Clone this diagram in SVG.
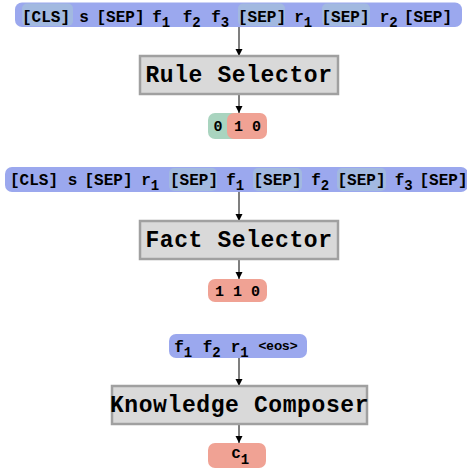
<svg xmlns="http://www.w3.org/2000/svg" width="467" height="470" viewBox="0 0 467 470">
<defs>
<style>
.bar{fill:#9ba8ee}
.hl{fill:#a2b9e0}
.pink{fill:#f0a294}
.green{fill:#a9d4bf}
.box{fill:#d9d9d9;stroke:#a0a0a0;stroke-width:2.5}
.t{font-family:"Liberation Mono",monospace;font-weight:bold;font-size:16px;fill:#000}
.s{font-size:14px}
.d{font-family:"Liberation Mono",monospace;font-weight:bold;font-size:15px;fill:#000;text-anchor:middle}
.eos{font-family:"Liberation Sans",Arial,sans-serif;font-weight:bold;font-size:13.5px;fill:#000;text-anchor:middle}
.bt{font-family:"Liberation Mono",monospace;font-weight:bold;font-size:23px;letter-spacing:0.6px;fill:#000;text-anchor:middle}
.conn{stroke:#555;stroke-width:1.5;fill:none}
</style>
<marker id="ah" viewBox="0 0 10 10" refX="10" refY="5" markerWidth="5" markerHeight="5" orient="auto" markerUnits="strokeWidth">
<path d="M0,0 L10,5 L0,10 z" fill="#000"/>
</marker>
</defs>

<g id="connectors">
<line class="conn" x1="239" y1="27" x2="239" y2="56" marker-end="url(#ah)"/>
<line class="conn" x1="239" y1="94" x2="239" y2="113" marker-end="url(#ah)"/>
<line class="conn" x1="239" y1="192" x2="239" y2="221" marker-end="url(#ah)"/>
<line class="conn" x1="239" y1="259" x2="239" y2="279" marker-end="url(#ah)"/>
<line class="conn" x1="239" y1="358" x2="239" y2="386" marker-end="url(#ah)"/>
<line class="conn" x1="239" y1="424" x2="239" y2="443" marker-end="url(#ah)"/>
</g>

<g id="input-rule">
<rect class="bar" x="15" y="2.5" width="447" height="24.5" rx="7"/>
<rect class="hl" x="22" y="3.5" width="51" height="22.5" rx="5"/>
<rect class="hl" x="238" y="3.5" width="47" height="22.5" rx="5"/>
<rect class="hl" x="322" y="3.5" width="48" height="22.5" rx="5"/>
<text class="t" x="22" y="22">[CLS]</text>
<text class="t" x="79.2" y="22">s</text>
<text class="t" x="96.5" y="22">[SEP]</text>
<text class="t" x="152.2" y="22">f<tspan class="s" dy="5">1</tspan></text>
<text class="t" x="182.7" y="22">f<tspan class="s" dy="5">2</tspan></text>
<text class="t" x="211.2" y="22">f<tspan class="s" dy="5">3</tspan></text>
<text class="t" x="238" y="22">[SEP]</text>
<text class="t" x="294.2" y="22">r<tspan class="s" dy="5">1</tspan></text>
<text class="t" x="321.5" y="22">[SEP]</text>
<text class="t" x="379.7" y="22">r<tspan class="s" dy="5">2</tspan></text>
<text class="t" x="404" y="22">[SEP]</text>
</g>

<g id="rule-selector">
<rect class="box" x="140" y="56" width="198" height="38"/>
<text class="bt" x="239" y="82">Rule Selector</text>
</g>

<g id="rule-output">
<rect class="green" x="208" y="113" width="34" height="26" rx="7"/>
<rect class="pink" x="227" y="113" width="40" height="26" rx="7"/>
<text class="d" x="218" y="131">0</text>
<text class="d" x="247.5" y="131">1 0</text>
</g>

<g id="input-fact">
<rect class="bar" x="5" y="167" width="463" height="25" rx="7"/>
<rect class="hl" x="169" y="168" width="48" height="23" rx="5"/>
<rect class="hl" x="253" y="168" width="49" height="23" rx="5"/>
<rect class="hl" x="337" y="168" width="49" height="23" rx="5"/>
<text class="t" x="10" y="185">[CLS]</text>
<text class="t" x="67.7" y="185">s</text>
<text class="t" x="84.5" y="185">[SEP]</text>
<text class="t" x="141.2" y="185">r<tspan class="s" dy="4.5">1</tspan></text>
<text class="t" x="170" y="185">[SEP]</text>
<text class="t" x="226.2" y="185">f<tspan class="s" dy="4.5">1</tspan></text>
<text class="t" x="253.5" y="185">[SEP]</text>
<text class="t" x="311.2" y="185">f<tspan class="s" dy="4.5">2</tspan></text>
<text class="t" x="337.5" y="185">[SEP]</text>
<text class="t" x="394.7" y="185">f<tspan class="s" dy="4.5">3</tspan></text>
<text class="t" x="419.5" y="185">[SEP]</text>
</g>

<g id="fact-selector">
<rect class="box" x="140" y="221" width="198" height="38"/>
<text class="bt" x="239" y="247">Fact Selector</text>
</g>

<g id="fact-output">
<rect class="pink" x="208" y="279" width="59" height="23" rx="7"/>
<text class="d" x="237.5" y="296">1 1 0</text>
</g>

<g id="input-composer">
<rect class="bar" x="169" y="334" width="138" height="24" rx="7"/>
<text class="t" x="174.2" y="352">f<tspan class="s" dy="5">1</tspan></text>
<text class="t" x="202.7" y="352">f<tspan class="s" dy="5">2</tspan></text>
<text class="t" x="230.7" y="352">r<tspan class="s" dy="5">1</tspan></text>
<text class="eos" x="278" y="350">&lt;eos&gt;</text>
</g>

<g id="knowledge-composer">
<rect class="box" x="112" y="386" width="255" height="38"/>
<text class="bt" x="239.5" y="412">Knowledge Composer</text>
</g>

<g id="composer-output">
<rect class="pink" x="208" y="443" width="58" height="25" rx="7"/>
<text class="t" x="231.2" y="458">c<tspan class="s" dy="6">1</tspan></text>
</g>
</svg>
